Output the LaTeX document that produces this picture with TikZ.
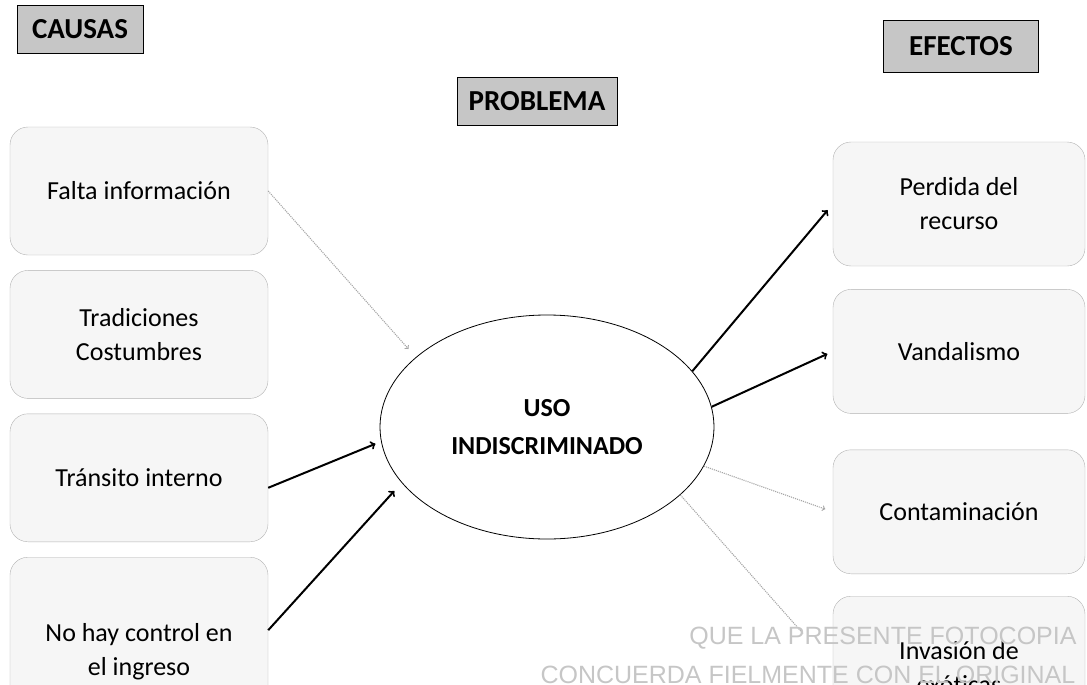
\documentclass[tikz,border=0pt]{standalone}
\usepackage{fontspec}
\setmainfont{Carlito}
\newfontfamily\stampfont{Liberation Sans}
\usetikzlibrary{shapes, arrows, calc, positioning}
\tikzstyle{line} = [draw, -to, line width=2pt]
\tikzstyle{faintline} = [draw, -to, gray!70, densely dotted, line width=1.1pt]
\tikzstyle{block} = [rectangle, draw=gray!60, fill=gray!7, text centered, rounded corners=18pt, align=center, minimum width=258pt, minimum height=128pt, font=\fontsize{26}{34}\selectfont]
\tikzstyle{effect} = [block, minimum width=252pt, minimum height=124pt]
\tikzstyle{tag} = [rectangle, draw=black, fill=gray!45, font=\bfseries\fontsize{29}{30}\selectfont]
\tikzstyle{stamp} = [text=gray!45, font=\stampfont\fontsize{25}{25}\selectfont]

\begin{document}
\begin{tikzpicture}[x=1pt, y=-1pt, node distance=15pt, on grid=false]
\useasboundingbox (0,0) rectangle (1087,685);
\clip (0,0) rectangle (1087,685);
% headings
\node [tag, minimum width=126pt, minimum height=48pt] (causas) at (80,29) {CAUSAS};
\node [tag, minimum width=155pt, minimum height=52pt] (efectos) at (961,46) {EFECTOS};
\node [tag, minimum width=160pt, minimum height=48pt] (problema) at (537,101) {PROBLEMA};
% causes
\node [block] (falta) at (139,191) {Falta información};
\node [block, below=of falta] (tradiciones) {Tradiciones\\Costumbres};
\node [block, below=of tradiciones] (transito) {Tránsito interno};
\node [block, below=of transito, minimum height=190pt] (control) {No hay control en\\el ingreso};
% effects
\node [effect] (perdida) at (959,204) {Perdida del\\recurso};
\node [effect, below=23pt of perdida] (vandalismo) {Vandalismo};
\node [effect, below=36pt of vandalismo] (contaminacion) {Contaminación};
\node [effect, below=22pt of contaminacion, minimum height=142pt] (invasion) {Invasión de\\exóticas};
% problem
\node [ellipse, draw, line width=0.8pt, minimum width=334pt, minimum height=224pt, align=center, font=\bfseries\fontsize{26}{38}\selectfont] (uso) at (547,427) {USO\\INDISCRIMINADO};
\path [faintline, shorten >=11pt] (falta.east) -- (uso.152);
\path [line, shorten >=6pt] ([yshift=-10pt]transito.east) -- (uso.185);
\path [line, shorten >=11pt] ([yshift=22pt]control.east) -- (uso.201);
\path [line, shorten >=8pt] (uso.21) -- (perdida.west);
\path [line, shorten >=6pt] (uso.7) -- (vandalismo.west);
\path [faintline, shorten >=8pt] (uso.-14) -- (contaminacion.west);
\path [draw, gray!70, densely dotted, line width=1.1pt, shorten >=45pt] (uso.-27) -- (invasion.west);
% copy stamp
\node [stamp, anchor=east] (stampa) at (1080,638) {QUE LA PRESENTE FOTOCOPIA};
\node [stamp, anchor=west] (stampb) at (537,675) {CONCUERDA FIELMENTE CON EL ORIGINAL};
\end{tikzpicture}
\end{document}
